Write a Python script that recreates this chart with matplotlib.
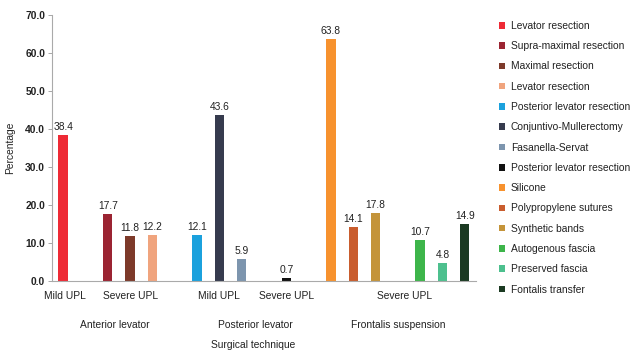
import matplotlib
matplotlib.use("Agg")
import matplotlib.pyplot as plt
from matplotlib.patches import Patch

plt.rcParams['font.family'] = ['Liberation Sans', 'DejaVu Sans']

techniques = ["Levator resection", "Supra-maximal resection", "Maximal resection",
              "Levator resection", "Posterior levator resection", "Conjuntivo-Mullerectomy",
              "Fasanella-Servat", "Posterior levator resection", "Silicone",
              "Polypropylene sutures", "Synthetic bands", "Autogenous fascia",
              "Preserved fascia", "Fontalis transfer"]
values = [38.4, 17.7, 11.8, 12.2, 12.1, 43.6, 5.9, 0.7, 63.8, 14.1, 17.8, 10.7, 4.8, 14.9]
value_labels = ["38.4", "17.7", "11.8", "12.2", "12.1", "43.6", "5.9", "0.7", "63.8",
                "14.1", "17.8", "10.7", "4.8", "14.9"]
colors = ["#EE2A35", "#9B2432", "#7D3A2A", "#F0A47E", "#1BA1DD", "#363B4E", "#7D95AE",
          "#111111", "#F7922E", "#C95D2E", "#C4943A", "#3DB54A", "#4DC08E", "#1B3A22"]
slots = [0, 2, 3, 4, 6, 7, 8, 10, 12, 13, 14, 16, 17, 18]
tick_labels = ["Mild UPL", "Severe UPL", "Mild UPL", "Severe UPL", "Severe UPL"]
tick_pos = [0.1, 3, 7, 10, 15.3]
groups = ["Anterior levator", "Posterior levator", "Frontalis suspension"]
group_pos = [2.3, 8.6, 15.0]

fig = plt.figure(figsize=(6.38, 3.58), dpi=100)
ax = fig.add_axes([0.0815, 0.215, 0.6645, 0.743])

ax.bar(slots, values, width=0.42, color=colors)
for s, v, t in zip(slots, values, value_labels):
    ax.text(s, v + 0.8, t, ha='center', va='bottom', fontsize=7.4, color='#222222')

ax.set_xlim(-0.5, 18.5)
ax.set_ylim(0, 70)
ax.set_yticks(range(0, 71, 10))
ax.set_yticklabels([f"{v:.1f}" for v in range(0, 71, 10)], fontsize=7.4, fontweight='bold', color='#222222')
ax.set_xticks(tick_pos)
ax.set_xticklabels(tick_labels, fontsize=7.4, color='#222222')
ax.tick_params(axis='x', length=0, pad=7)
ax.tick_params(axis='y', length=3, width=0.6, color='#999999', pad=2)
for sp in ['top', 'right']:
    ax.spines[sp].set_visible(False)
for sp in ['left', 'bottom']:
    ax.spines[sp].set_color('#AAAAAA')
    ax.spines[sp].set_linewidth(0.8)

for g, p in zip(groups, group_pos):
    ax.text(p, -0.165, g, transform=ax.get_xaxis_transform(), ha='center', va='center',
            fontsize=7.4, color='#222222')
ax.text(8.5, -0.24, "Surgical technique", transform=ax.get_xaxis_transform(),
        ha='center', va='center', fontsize=7.4, color='#222222')

ax.set_ylabel("Percentage", fontsize=7.4, color='#222222', labelpad=7)

handles = [Patch(facecolor=c, edgecolor='none') for c in colors]
leg = fig.legend(handles, techniques, loc='upper left', bbox_to_anchor=(0.775, 0.953),
                 frameon=False, fontsize=7.4, handlelength=0.6, handleheight=0.6,
                 handletextpad=0.6, labelspacing=1.0, borderaxespad=0)
for t in leg.get_texts():
    t.set_color('#222222')

fig.savefig("out.png", dpi=100)
